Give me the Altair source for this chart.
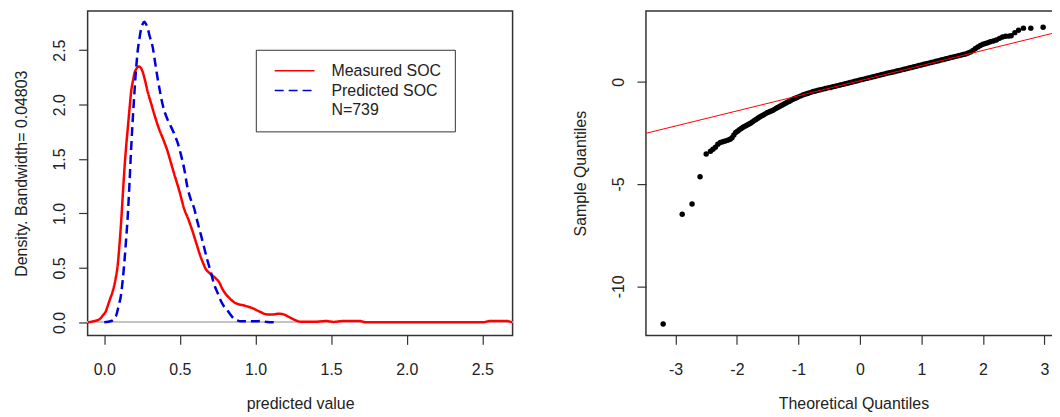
import altair as alt
import pandas as pd

# ---------------- data ----------------
# Left panel: kernel density curves
measured_x = [-0.11, -0.064, -0.03, -0.009, 0.01, 0.024, 0.04, 0.057, 0.075, 0.09, 0.10, 0.112, 0.123,
              0.134, 0.145, 0.156, 0.167, 0.178, 0.19, 0.20, 0.213, 0.226, 0.24, 0.254, 0.27, 0.287,
              0.31, 0.331, 0.364, 0.39, 0.419, 0.44, 0.463, 0.496, 0.529, 0.555, 0.583, 0.61, 0.638,
              0.655, 0.671, 0.69, 0.715, 0.74, 0.759, 0.78, 0.803, 0.83, 0.857, 0.89, 0.923, 0.96,
              0.989, 1.01, 1.033, 1.055, 1.077, 1.10, 1.12, 1.153, 1.186, 1.21, 1.23, 1.26, 1.296,
              1.35, 1.406, 1.44, 1.47, 1.515, 1.58, 1.69, 1.73, 2.0, 2.3, 2.50, 2.55, 2.66, 2.70]
measured_y = [0.0, 0.012, 0.03, 0.064, 0.10, 0.155, 0.22, 0.29, 0.40, 0.54, 0.70, 0.93, 1.18,
              1.42, 1.62, 1.79, 1.96, 2.12, 2.22, 2.29, 2.33, 2.35, 2.34, 2.30, 2.22, 2.12,
              2.01, 1.91, 1.77, 1.68, 1.57, 1.47, 1.36, 1.21, 1.04, 0.95, 0.84, 0.72, 0.60,
              0.54, 0.49, 0.46, 0.43, 0.40, 0.37, 0.31, 0.26, 0.22, 0.186, 0.165, 0.155, 0.14,
              0.125, 0.11, 0.095, 0.08, 0.073, 0.073, 0.073, 0.079, 0.073, 0.058, 0.043, 0.022, 0.006,
              0.005, 0.006, 0.01, 0.012, 0.004, 0.012, 0.012, 0.0, 0.0, 0.0, 0.0, 0.012, 0.012, 0.0]

predicted_x = [0.0, 0.046, 0.065, 0.079, 0.095, 0.112, 0.123, 0.134, 0.145, 0.156, 0.167, 0.178,
               0.19, 0.20, 0.21, 0.221, 0.232, 0.243, 0.254, 0.265, 0.276, 0.287, 0.30, 0.320,
               0.336, 0.353, 0.37, 0.386, 0.40, 0.419, 0.44, 0.463, 0.485, 0.507, 0.53, 0.55,
               0.572, 0.594, 0.615, 0.638, 0.66, 0.682, 0.705, 0.726, 0.75, 0.77, 0.79, 0.814,
               0.835, 0.857, 0.88, 0.901, 0.95, 0.989, 1.033, 1.077, 1.13]
predicted_y = [0.0, 0.012, 0.03, 0.064, 0.15, 0.26, 0.40, 0.57, 0.77, 0.99, 1.28, 1.60,
               1.90, 2.12, 2.32, 2.49, 2.60, 2.69, 2.74, 2.76, 2.74, 2.70, 2.63, 2.53,
               2.39, 2.24, 2.11, 2.0, 1.93, 1.86, 1.80, 1.73, 1.65, 1.54, 1.40, 1.24,
               1.13, 1.05, 0.93, 0.81, 0.69, 0.57, 0.46, 0.35, 0.27, 0.20, 0.15, 0.11,
               0.07, 0.034, 0.018, 0.009, 0.009, 0.009, 0.012, 0.003, 0.0]

series_names = ["Measured SOC", "Predicted SOC", "N=739"]
density_x_ticks = [0.0, 0.5, 1.0, 1.5, 2.0, 2.5]
density_y_ticks = [0.0, 0.5, 1.0, 1.5, 2.0, 2.5]

# Right panel: normal Q-Q plot
qq_theoretical = [-3.20, -2.89, -2.73, -2.60, -2.50, -2.43, -2.39, -2.35, -2.31, -2.27, -2.23, -2.19,
                  -2.15, -2.11, -2.08, -2.05, -2.02, -1.99, -1.96, -1.93, -1.90, -1.87, -1.84, -1.81,
                  -1.78, -1.75, -1.72, -1.69, -1.66, -1.63, -1.60, -1.57, -1.54, -1.51, -1.48, -1.45,
                  -1.42, -1.39, -1.36, -1.33, -1.30, -1.27, -1.24, -1.21, -1.18, -1.15, -1.12, -1.09,
                  -1.06, -1.03, -1.00, -0.96, -0.92, -0.88, -0.84, -0.80, -0.76, -0.72, -0.68, -0.64,
                  -0.60, -0.56, -0.52, -0.48, -0.44, -0.40, -0.36, -0.32, -0.28, -0.24, -0.20, -0.16,
                  -0.12, -0.08, -0.04, 0.00, 0.04, 0.08, 0.12, 0.16, 0.20, 0.24, 0.28, 0.32, 0.36,
                  0.40, 0.44, 0.48, 0.52, 0.56, 0.60, 0.64, 0.68, 0.72, 0.76, 0.80, 0.84, 0.88, 0.92,
                  0.96, 1.00, 1.04, 1.08, 1.12, 1.16, 1.20, 1.24, 1.28, 1.32, 1.36, 1.40, 1.44, 1.48,
                  1.52, 1.56, 1.60, 1.64, 1.68, 1.72, 1.76, 1.80, 1.84, 1.88, 1.92, 1.96, 2.00, 2.04,
                  2.08, 2.12, 2.17, 2.22, 2.27, 2.32, 2.37, 2.42, 2.46, 2.52, 2.58, 2.66, 2.78, 2.98,
                  3.20]
qq_sample = [-11.84, -6.48, -5.98, -4.64, -3.53, -3.40, -3.30, -3.20, -3.05, -2.97, -2.93, -2.90,
             -2.86, -2.81, -2.74, -2.60, -2.48, -2.42, -2.35, -2.28, -2.22, -2.17, -2.13, -2.08,
             -2.03, -1.97, -1.90, -1.85, -1.78, -1.72, -1.67, -1.62, -1.57, -1.52, -1.48, -1.44,
             -1.40, -1.35, -1.30, -1.25, -1.20, -1.15, -1.10, -1.05, -1.00, -0.96, -0.91, -0.86,
             -0.82, -0.78, -0.74, -0.69, -0.64, -0.60, -0.56, -0.52, -0.48, -0.45, -0.42, -0.39,
             -0.36, -0.33, -0.30, -0.28, -0.25, -0.22, -0.19, -0.16, -0.13, -0.10, -0.07, -0.04,
             -0.01, 0.02, 0.05, 0.08, 0.11, 0.14, 0.17, 0.20, 0.23, 0.26, 0.29, 0.32, 0.35,
             0.38, 0.41, 0.44, 0.46, 0.49, 0.52, 0.55, 0.58, 0.61, 0.64, 0.67, 0.70, 0.73, 0.76,
             0.79, 0.82, 0.85, 0.88, 0.91, 0.94, 0.97, 1.00, 1.03, 1.06, 1.09, 1.12, 1.15, 1.18,
             1.21, 1.24, 1.27, 1.30, 1.33, 1.36, 1.40, 1.45, 1.53, 1.62, 1.70, 1.77, 1.83, 1.87,
             1.91, 1.95, 1.99, 2.04, 2.12, 2.19, 2.22, 2.23, 2.25, 2.40, 2.52, 2.62, 2.62, 2.66,
             2.75]
qqline_x = [-3.48, 3.30]
qqline_y = [-2.52, 2.49]
qq_x_ticks = [-3, -2, -1, 0, 1, 2, 3]
qq_y_ticks = [-10, -5, 0]

# ---------------- tables ----------------
dens = pd.concat([
    pd.DataFrame({"x": measured_x, "y": measured_y, "series": series_names[0]}),
    pd.DataFrame({"x": predicted_x, "y": predicted_y, "series": series_names[1]}),
], ignore_index=True)
qq = pd.DataFrame({"tq": qq_theoretical, "sq": qq_sample})
qline = pd.DataFrame({"tq": qqline_x, "sq": qqline_y})

FONT = "Liberation Sans"
TXT = "#222222"

leg = alt.Legend(
    title=None, orient="none", legendX=169, legendY=39,
    strokeColor="#333333", fillColor="white", padding=13,
    labelFont=FONT, labelFontSize=16, labelColor=TXT, labelOffset=29,
    symbolType="M-4,0H4", symbolSize=100, symbolOffset=18,
    symbolStrokeWidth=1.5, rowPadding=4,
)

xs_d = alt.Scale(domain=[-0.11, 2.70], nice=False, zero=False)
ys_d = alt.Scale(domain=[-0.12, 2.86], nice=False, zero=False)

zero_line = alt.Chart(dens).mark_rule(color="#c4c4c4", strokeWidth=1).encode(
    y=alt.datum(0, scale=ys_d)
)

curves = alt.Chart(dens).mark_line(strokeWidth=2.5, interpolate="monotone", clip=True).encode(
    x=alt.X("x:Q", scale=xs_d,
            axis=alt.Axis(values=density_x_ticks, format=".1f", title="predicted value")),
    y=alt.Y("y:Q", scale=ys_d,
            axis=alt.Axis(values=density_y_ticks, format=".1f",
                          title="Density. Bandwidth= 0.04803",
                          labelAngle=270, labelAlign="center", labelBaseline="alphabetic")),
    color=alt.Color("series:N", sort=series_names,
                    scale=alt.Scale(domain=series_names, range=["#ff0000", "#0000dd", "transparent"]),
                    legend=leg),
    strokeDash=alt.StrokeDash("series:N", sort=series_names,
                              scale=alt.Scale(domain=series_names, range=[[1, 0], [9, 5], [1, 0]]),
                              legend=leg),
    detail="series:N",
)

left = alt.layer(zero_line, curves).properties(width=427, height=326)

xs_q = alt.Scale(domain=[-3.48, 3.27], nice=False, zero=False)
ys_q = alt.Scale(domain=[-12.4, 3.46], nice=False, zero=False)

pts = alt.Chart(qq).mark_circle(size=30, color="black", opacity=1).encode(
    x=alt.X("tq:Q", scale=xs_q, axis=alt.Axis(values=qq_x_ticks, title="Theoretical Quantiles",
                                              labelExpr="'' + datum.value")),
    y=alt.Y("sq:Q", scale=ys_q,
            axis=alt.Axis(values=qq_y_ticks, title="Sample Quantiles", labelExpr="'' + datum.value",
                          labelAngle=270, labelAlign="center", labelBaseline="alphabetic")),
)
ref = alt.Chart(qline).mark_line(color="#ff0000", strokeWidth=1, clip=True).encode(
    x=alt.X("tq:Q", scale=xs_q), y=alt.Y("sq:Q", scale=ys_q)
)
right = alt.layer(pts, ref).properties(width=417, height=326)

chart = alt.hconcat(left, right, spacing=57).properties(
    padding={"left": 5, "top": 1, "right": -10, "bottom": 0}
).configure_view(
    stroke="#333333", strokeWidth=1.5
).configure_axis(
    grid=False, domain=False,
    labelFont=FONT, titleFont=FONT, labelFontSize=16, titleFontSize=16,
    titleFontWeight="normal", labelColor=TXT, titleColor=TXT,
    tickColor="#333333", tickSize=9, tickWidth=1.2,
    labelPadding=14, titlePadding=22,
).configure_axisX(labelPadding=17, titlePadding=18)

chart.save("out.html", embed_options={"renderer": "svg", "actions": False})
